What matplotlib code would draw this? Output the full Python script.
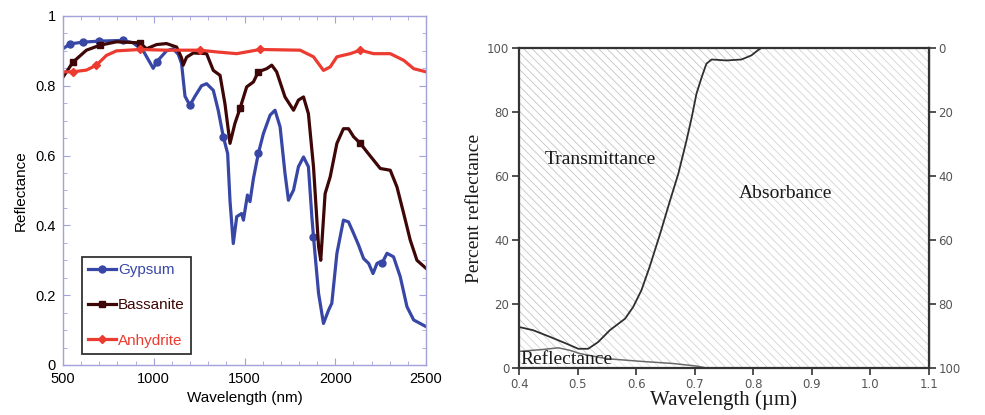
import numpy as np
import matplotlib
matplotlib.use("Agg")
import matplotlib.pyplot as plt
from matplotlib.ticker import MultipleLocator, FormatStrFormatter

plt.rcParams["hatch.linewidth"] = 0.6

# --- reflectance spectra of the calcium sulphates (nm, fraction) ---
gyp_wl = [500, 537, 610, 700, 830, 886, 942, 997, 1015, 1070, 1107, 1135, 1153, 1172, 1199,
          1227, 1263, 1291, 1328, 1355, 1383, 1407, 1420, 1438, 1457, 1484, 1494, 1516, 1530,
          1549, 1576, 1604, 1641, 1668, 1696, 1723, 1742, 1770, 1797, 1825, 1852, 1871, 1880,
          1908, 1935, 1963, 1981, 2009, 2045, 2073, 2101, 2128, 2156, 2184, 2208, 2230, 2245,
          2257, 2285, 2321, 2358, 2395, 2432, 2500]
gyp_r = [0.906, 0.92, 0.925, 0.928, 0.93, 0.923, 0.90, 0.85, 0.868, 0.90, 0.906, 0.89, 0.864,
         0.77, 0.744, 0.77, 0.80, 0.806, 0.787, 0.73, 0.654, 0.606, 0.47, 0.348, 0.425, 0.434,
         0.415, 0.487, 0.468, 0.534, 0.606, 0.663, 0.716, 0.73, 0.682, 0.549, 0.472, 0.501,
         0.568, 0.596, 0.568, 0.425, 0.367, 0.205, 0.119, 0.157, 0.177, 0.32, 0.415, 0.41,
         0.377, 0.344, 0.305, 0.291, 0.262, 0.291, 0.295, 0.291, 0.32, 0.31, 0.253, 0.167,
         0.129, 0.11]
gyp_marks = [537, 610, 700, 830, 1015, 1199, 1383, 1576, 1880, 2257]

bas_wl = [500, 555, 629, 702, 794, 923, 960, 1015, 1070, 1126, 1153, 1162, 1181, 1218, 1291,
          1328, 1365, 1392, 1420, 1447, 1475, 1512, 1549, 1576, 1622, 1650, 1677, 1723, 1770,
          1797, 1825, 1852, 1880, 1908, 1920, 1944, 1972, 2009, 2045, 2073, 2101, 2138, 2174,
          2211, 2248, 2303, 2340, 2377, 2413, 2450, 2500]
bas_r = [0.825, 0.868, 0.902, 0.916, 0.926, 0.923, 0.906, 0.918, 0.921, 0.911, 0.88, 0.859,
         0.882, 0.894, 0.892, 0.844, 0.83, 0.749, 0.635, 0.692, 0.735, 0.797, 0.811, 0.84,
         0.849, 0.859, 0.84, 0.768, 0.73, 0.759, 0.768, 0.72, 0.568, 0.339, 0.30, 0.491, 0.539,
         0.635, 0.677, 0.677, 0.654, 0.635, 0.611, 0.587, 0.563, 0.558, 0.51, 0.434, 0.358,
         0.30, 0.277]
bas_marks = [555, 702, 923, 1475, 1576, 2138]

anh_wl = [500, 555, 629, 684, 739, 794, 923, 1070, 1254, 1346, 1457, 1586, 1806, 1880, 1935,
          1972, 2009, 2082, 2138, 2211, 2303, 2377, 2432, 2500]
anh_r = [0.84, 0.84, 0.845, 0.859, 0.887, 0.90, 0.904, 0.902, 0.902, 0.897, 0.892, 0.904,
         0.902, 0.883, 0.844, 0.854, 0.883, 0.892, 0.902, 0.892, 0.892, 0.873, 0.849, 0.84]
anh_marks = [555, 684, 923, 1254, 1586, 2138]

# --- leaf optical properties (um, percent) ---
top_wl = [0.40, 0.424, 0.453, 0.481, 0.501, 0.518, 0.535, 0.555, 0.581, 0.595, 0.609, 0.623,
          0.641, 0.658, 0.672, 0.686, 0.695, 0.703, 0.712, 0.720, 0.729, 0.754, 0.780, 0.797,
          0.808, 0.814]
top_pct = [12.8, 11.8, 9.7, 7.6, 6.0, 6.0, 8.1, 11.8, 15.4, 19.1, 24.3, 31.6, 42.0, 52.4,
           60.7, 71.1, 78.4, 85.7, 90.9, 95.1, 96.4, 96.1, 96.4, 97.7, 99.3, 100.0]
refl_wl = [0.40, 0.436, 0.467, 0.487, 0.504, 0.55, 0.606, 0.663, 0.703, 0.72]
refl_pct = [5.2, 5.7, 6.3, 5.5, 4.5, 2.9, 2.1, 1.4, 0.6, 0.0]

fig = plt.figure(figsize=(9.85, 4.15), dpi=100)
fig.patch.set_facecolor("white")

sans = ["Liberation Sans", "DejaVu Sans"]
serif = ["Liberation Serif", "DejaVu Serif"]

# ================= left: mineral spectra =================
ax = fig.add_axes([0.064, 0.1205, 0.3685, 0.841])
spine_c = "#a3a3dc"
series = [
    ("Gypsum", gyp_wl, gyp_r, gyp_marks, "#3847a6", "o", 5),
    ("Bassanite", bas_wl, bas_r, bas_marks, "#3e0606", "s", 5),
    ("Anhydrite", anh_wl, anh_r, anh_marks, "#ec3b30", "D", 4.5),
]
for name, wl, r, marks, col, mk, ms in series:
    wl = np.array(wl)
    idx = [int(np.argmin(np.abs(wl - m))) for m in marks]
    ax.plot(wl, r, color=col, lw=2.3, marker=mk, ms=ms, markevery=idx,
            solid_joinstyle="round", label=name)

ax.set_xlim(500, 2500)
ax.set_ylim(0, 1)
ax.xaxis.set_major_locator(MultipleLocator(500))
ax.xaxis.set_minor_locator(MultipleLocator(100))
ax.yaxis.set_major_locator(MultipleLocator(0.2))
ax.yaxis.set_minor_locator(MultipleLocator(0.05))
ax.yaxis.set_major_formatter(FormatStrFormatter("%g"))
for s in ax.spines.values():
    s.set_color(spine_c)
    s.set_linewidth(1.0)
ax.tick_params(which="both", direction="in", top=True, right=True, color=spine_c)
ax.tick_params(which="major", length=5, labelsize=10.5, pad=5)
ax.tick_params(which="minor", length=3)
for lab in ax.get_xticklabels() + ax.get_yticklabels():
    lab.set_family(sans)
ax.set_xlabel("Wavelength (nm)", family=sans, fontsize=11, labelpad=4)
ax.set_ylabel("Reflectance", family=sans, fontsize=11, labelpad=6)

leg = ax.legend(loc="lower left", bbox_to_anchor=(0.052, 0.032), borderaxespad=0,
                prop={"family": sans, "size": 11}, fancybox=False, framealpha=1,
                edgecolor="#333333", handlelength=1.8, handletextpad=0.15,
                labelspacing=1.4, borderpad=0.4)
leg.get_frame().set_linewidth(1.3)
for txt, (_, _, _, _, col, _, _) in zip(leg.get_texts(), series):
    txt.set_color(col)

# ================= right: leaf reflectance / transmittance / absorbance =================
bx = fig.add_axes([0.527, 0.1133, 0.416, 0.7711])
bx.set_xlim(0.4, 1.1)
bx.set_ylim(0, 100)

tw = np.array(top_wl)
tp = np.array(top_pct)
rw = np.array(refl_wl)
rp = np.array(refl_pct)

grid = np.unique(np.concatenate([tw, rw, [1.1]]))
upper = np.interp(grid, tw, tp, right=100.0)
lower = np.interp(grid, rw, rp, right=0.0)

# transmittance: above the curve, up to 100 %
bx.fill_between(tw, tp, 100, facecolor="white", edgecolor="#c4c4c4",
                hatch="\\\\\\\\", linewidth=0)
# absorbance: between reflectance and the transmittance curve
bx.fill_between(grid, lower, upper, facecolor="white", edgecolor="#d2d2d2",
                hatch="\\\\\\\\", linewidth=0)
# reflectance: below the reflectance curve
bx.fill_between(rw, 0, rp, facecolor="white", edgecolor="#e6e6e6",
                hatch="\\\\\\\\", linewidth=0)

bx.plot(tw, tp, color="#2f2f2f", lw=1.3)
bx.plot(rw, rp, color="#6a6a6a", lw=1.1)

bx.text(0.538, 65, "Transmittance", family=serif, fontsize=14, ha="center", va="center",
        color="#1a1a1a")
bx.text(0.855, 54.5, "Absorbance", family=serif, fontsize=14, ha="center", va="center",
        color="#1a1a1a")
bx.text(0.481, 2.6, "Reflectance", family=serif, fontsize=14, ha="center", va="center",
        color="#1a1a1a")

for s in bx.spines.values():
    s.set_color("#333333")
    s.set_linewidth(1.6)
bx.set_xticks(np.arange(0.4, 1.101, 0.1))
bx.set_xticklabels(["0.4", "0.5", "0.6", "0.7", "0.8", "0.9", "1.0", "1.1"])
bx.set_yticks(np.arange(0, 101, 20))
bx.tick_params(direction="out", length=5, width=1.2, color="#333333", labelsize=8.5,
               labelcolor="#555555", pad=2)
for lab in bx.get_xticklabels() + bx.get_yticklabels():
    lab.set_family(["DejaVu Sans"])

sec = bx.secondary_yaxis("right", functions=(lambda y: 100 - y, lambda y: 100 - y))
sec.set_yticks(np.arange(0, 101, 20))
sec.tick_params(direction="out", length=5, width=1.2, color="#333333", labelsize=8.5,
                labelcolor="#555555", pad=2)
sec.spines["right"].set_color("#333333")
sec.spines["right"].set_linewidth(1.6)

bx.set_xlabel("Wavelength (\u00b5m)", family=serif, fontsize=15, labelpad=0,
              color="#1a1a1a")
bx.set_ylabel("Percent reflectance", family=serif, fontsize=14, labelpad=3,
              color="#1a1a1a")

fig.savefig("out.png", dpi=100, facecolor="white")
